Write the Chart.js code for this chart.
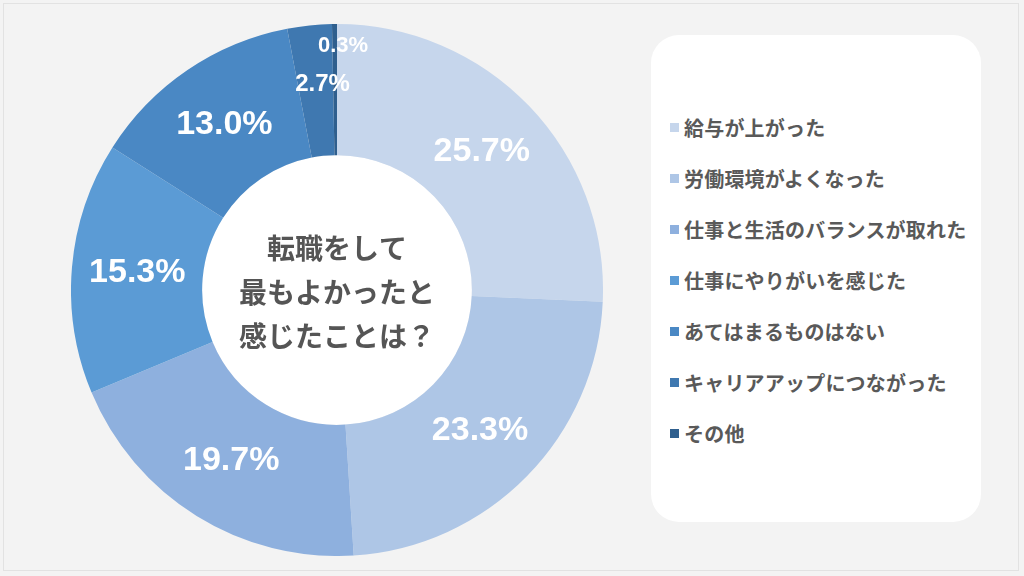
<!DOCTYPE html>
<html><head><meta charset="utf-8">
<script src="https://cdn.jsdelivr.net/npm/chart.js@4/dist/chart.umd.min.js"></script>
<style>
html,body{margin:0;padding:0;}
body{width:1024px;height:576px;background:#f3f3f3;position:relative;overflow:hidden;font-family:"Noto Sans CJK JP","Noto Sans",sans-serif;}
#frame{position:absolute;left:3px;top:3px;width:1016px;height:568px;border:1px solid #e2e2e2;box-sizing:border-box;}
#wrap{position:absolute;left:71px;top:24px;width:532px;height:532px;}
#legend{position:absolute;left:651px;top:35px;width:330px;height:487px;background:#fff;border-radius:28px;}
.item{position:absolute;left:19px;height:24px;display:flex;align-items:center;font-weight:700;font-size:20px;color:#595959;white-space:nowrap;letter-spacing:0.2px;}
.item span.box{display:inline-block;width:9px;height:9px;margin-right:5px;}
</style></head>
<body>
<div id="frame"></div>
<div id="wrap"><canvas id="c" width="532" height="532"></canvas></div>
<div id="legend"></div>
<script>
const categories = ["給与が上がった","労働環境がよくなった","仕事と生活のバランスが取れた","仕事にやりがいを感じた","あてはまるものはない","キャリアアップにつながった","その他"];
const values = [25.7, 23.3, 19.7, 15.3, 13.0, 2.7, 0.3];
const colors = ["#c6d6ec","#aec6e6","#8eb0de","#5b9bd5","#4a88c4","#3f78b0","#2f5f8e"];
const centerLines = ["転職をして","最もよかったと","感じたことは？"];

const lg = document.getElementById('legend');
categories.forEach((c,i)=>{
  const d=document.createElement('div');
  d.className='item';
  d.style.top=(80+i*51)+'px';
  d.innerHTML='<span class="box" style="background:'+colors[i]+'"></span>'+c;
  lg.appendChild(d);
});

const labelPlugin = {
  id:'labels',
  afterDatasetsDraw(chart){
    const ctx=chart.ctx;
    const meta=chart.getDatasetMeta(0);
    ctx.save();
    ctx.textAlign='center';ctx.textBaseline='middle';
    meta.data.forEach((arc,i)=>{
      const v=values[i];
      const p=arc.getProps(['x','y','startAngle','endAngle','innerRadius','outerRadius'],true);
      let mid=(p.startAngle+p.endAngle)/2;
      let r=(p.innerRadius+p.outerRadius)/2;
      let size=34;
      let dx=0;
      if(v<1){ r=p.outerRadius-22; size=22; mid=-Math.PI/2; dx=6; }
      else if(v<5){ r=p.outerRadius-60; size=24; mid=-Math.PI/2-0.07; }
      ctx.font='700 '+size+'px "Liberation Sans", Arial, sans-serif';
      ctx.fillStyle='#ffffff';
      ctx.fillText(v.toFixed(1)+'%', p.x+Math.cos(mid)*r+dx, p.y+Math.sin(mid)*r);
    });
    // center text
    ctx.fillStyle='#555555';
    ctx.font='700 28px "Noto Sans CJK JP", sans-serif';
    const cx=meta.data[0].x, cy=meta.data[0].y;
    centerLines.forEach((t,i)=>{ctx.fillText(t,cx,cy+2+(i-1)*44);});
    ctx.restore();
  }
};

new Chart(document.getElementById('c'),{
  type:'doughnut',
  data:{labels:categories,datasets:[{data:values,backgroundColor:colors,borderWidth:0}]},
  options:{
    responsive:false,animation:false,
    cutout:'50.7%',
    layout:{padding:0},
    plugins:{legend:{display:false},tooltip:{enabled:false}}
  },
  plugins:[labelPlugin,{id:'bgWhite',beforeDatasetsDraw(chart){
    const a=chart.getDatasetMeta(0).data[0];
    const ctx=chart.ctx;ctx.save();ctx.fillStyle='#ffffff';ctx.beginPath();ctx.arc(a.x,a.y,a.innerRadius,0,Math.PI*2);ctx.fill();ctx.restore();}}]
});
</script>
</body></html>
